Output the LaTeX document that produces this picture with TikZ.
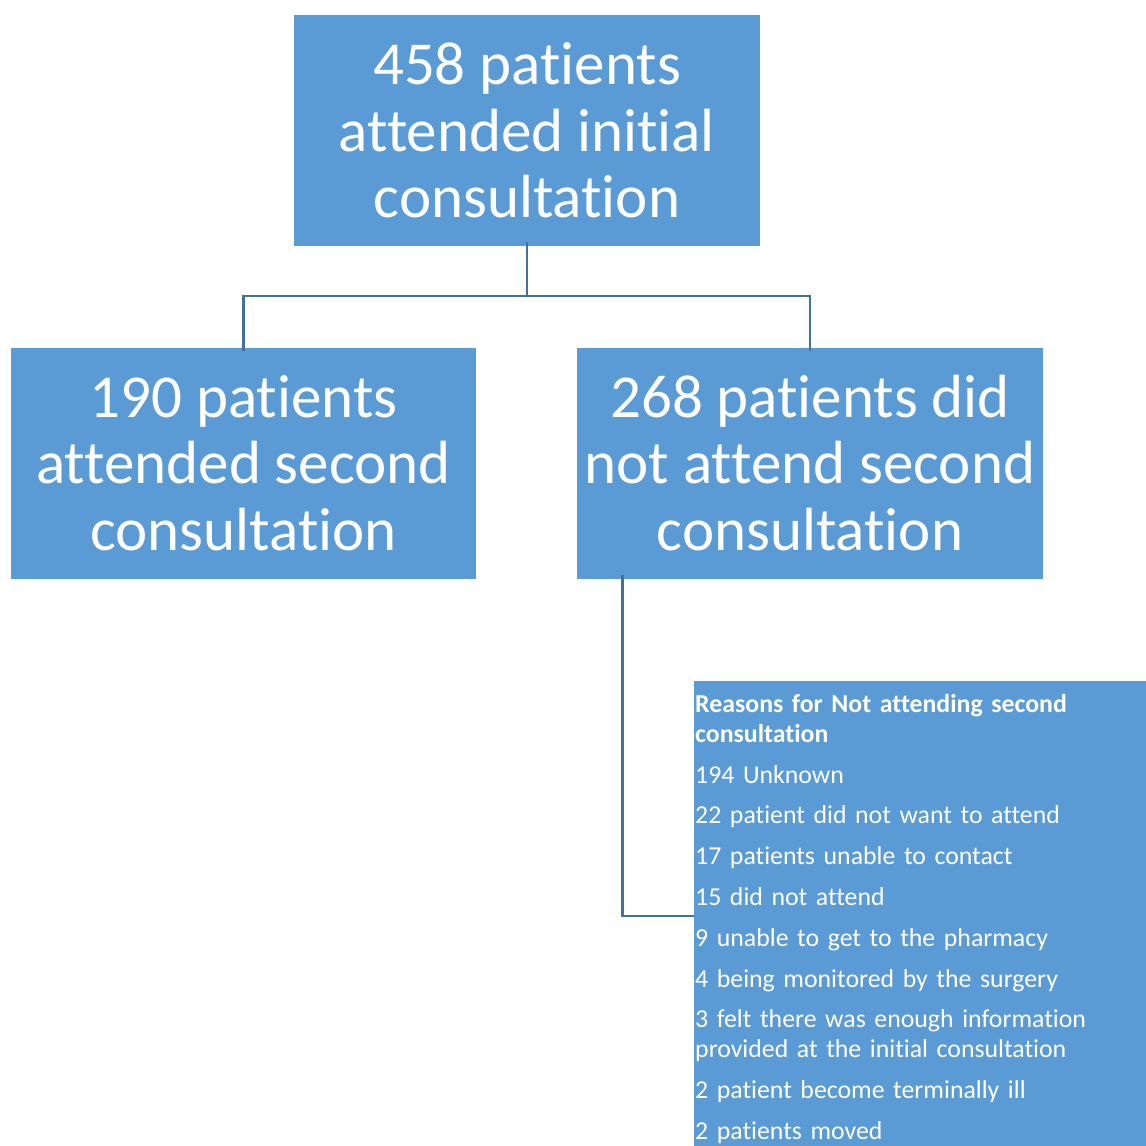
\documentclass[tikz,border=0pt]{standalone}
\usepackage{fontspec}
\setmainfont{Carlito}[Ligatures=NoCommon]
\newfontfamily\reasonsfont{Carlito}[Ligatures=NoCommon, WordSpace=0.8]
\usetikzlibrary{positioning}

\definecolor{boxblue}{RGB}{91,155,213}
\definecolor{linkblue}{RGB}{65,113,156}

\begin{document}
\begin{tikzpicture}[x=1pt,y=1pt,yscale=-1,xscale=1,
  bigbox/.style={fill=boxblue, text=white, align=center, inner sep=0pt,
    minimum width=466pt, minimum height=231pt, font=\fontsize{61}{66.5}\selectfont},
  link/.style={draw=linkblue, line width=2.8pt}]
\useasboundingbox (0,0) rectangle (1146,1146);

% Top box
\node [bigbox] (initial) at (527,130.5) {458 patients\\attended initial\\consultation};
% Second row
\node [bigbox, minimum width=465pt] (second) at (243.5,463) {190 patients\\attended second\\consultation};
\node [bigbox] (notsecond) at (810,463) {268 patients did\\not attend second\\consultation};
% Reasons box
\node [fill=boxblue, anchor=north west, inner sep=0pt, minimum width=452pt, minimum height=465pt] (reasonsbox) at (694,681) {};
% Text Node
\node [anchor=north west, text=white, text width=450pt, align=left, inner sep=0pt,
  font=\reasonsfont\fontsize{25.8}{29.5}\selectfont] (reasons) at (695,694.5)
  {{\bfseries Reasons for Not attending second}\\{\bfseries consultation}\\[11.3pt]
   194 Unknown\\[11.3pt]
   22 patient did not want to attend\\[11.3pt]
   17 patients unable to contact\\[11.3pt]
   15 did not attend\\[11.3pt]
   9 unable to get to the pharmacy\\[11.3pt]
   4 being monitored by the surgery\\[11.3pt]
   3 felt there was enough information\\provided at the initial consultation\\[11.3pt]
   2 patient become terminally ill\\[11.3pt]
   2 patients moved};

% Connectors
\coordinate (fork) at (527,296);
\draw [link] ([yshift=-4pt]initial.south) -- (fork) -| ([yshift=4pt]second.north);
\draw [link] (fork) -| ([yshift=4pt]notsecond.north);
\draw [link] ([xshift=46pt,yshift=-4pt]notsecond.south west) |- (reasonsbox.west |- 0,916);

\end{tikzpicture}
\end{document}
